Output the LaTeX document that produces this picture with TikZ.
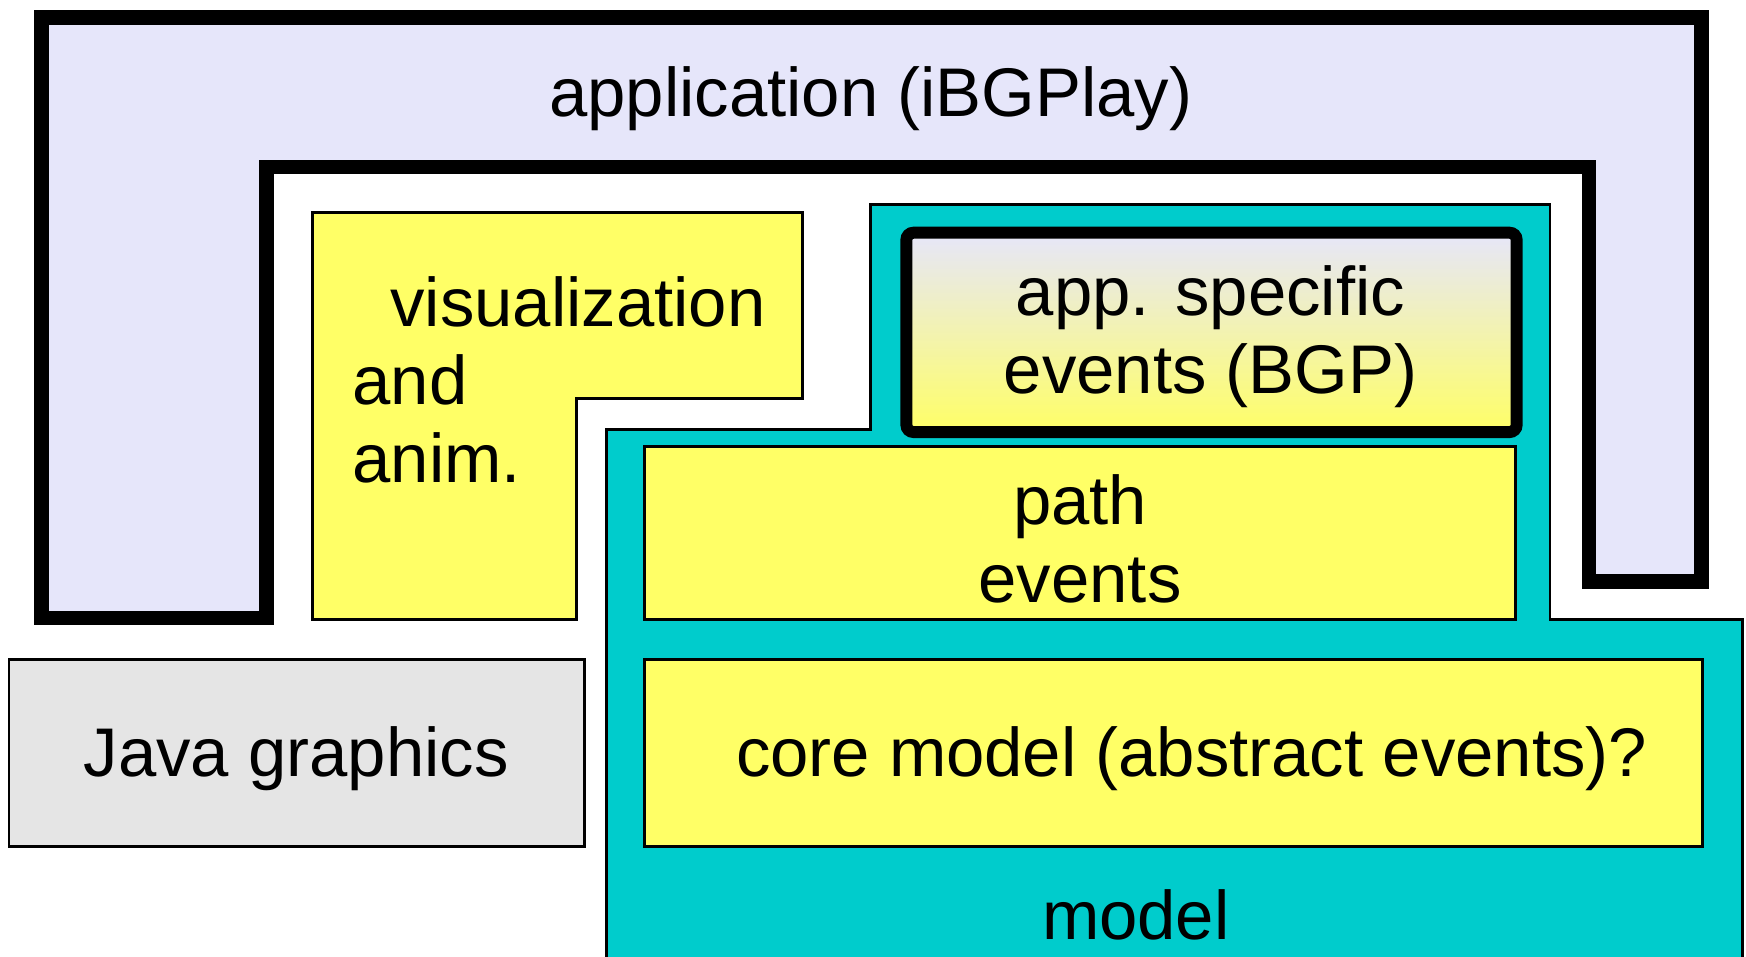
\documentclass[tikz,border=0pt]{standalone}
\usepackage{fontspec}
\setmainfont{Liberation Sans}
\definecolor{appblue}{RGB}{230,230,250}
\definecolor{boxyellow}{RGB}{255,255,102}
\definecolor{modelcyan}{RGB}{0,204,204}
\definecolor{javagray}{RGB}{229,229,229}
\begin{document}
\begin{tikzpicture}[x=0.011135cm, y=-0.011135cm,
        txt/.style={font=\fontsize{19.6}{22.2}\selectfont, inner sep=0pt},
        thinbox/.style={draw=black, line width=0.8pt, line join=miter},
        thickbox/.style={draw=black, line width=4.2pt, line join=miter}]
        \useasboundingbox (0,0) rectangle (1568,859);

        \draw[thickbox, fill=appblue] (37,16) -- (1528,16) -- (1528,522) -- (1427,522) -- (1427,150) -- (239,150) -- (239,555) -- (37,555) -- cycle;
        \node[txt] (app) at (782,89) {application (iBGPlay)};

        \draw[thinbox, fill=boxyellow] (281,191) -- (721,191) -- (721,358) -- (518,358) -- (518,556) -- (281,556) -- cycle;
        \node[txt, align=left, anchor=west] (vis) at (316,341) {\hspace{0.55em}visualization\\and\\anim.};

        \draw[thinbox, fill=modelcyan] (782,184) -- (1392,184) -- (1392,556) -- (1565,556) -- (1565,870) -- (545,870) -- (545,386) -- (782,386) -- cycle;
        \node[txt] (model) at (1020,822) {model};

        \draw[line width=3.4pt, rounded corners=2pt, top color=appblue, bottom color=boxyellow] (814,209) rectangle (1362,388);
        \node[txt, align=center] (bgp) at (1087,302) {app. specific\\events (BGP)};

        \draw[thinbox, fill=boxyellow] (579,401) rectangle (1361,556);
        \node[txt, align=center] (path) at (970,484) {path\\events};

        \draw[thinbox, fill=boxyellow] (579,592) rectangle (1529,760);
        \node[txt] (core) at (1070,681) {core model (abstract events)?};

        \draw[thinbox, fill=javagray] (8,592) rectangle (525,760);
        \node[txt] (java) at (266,681) {Java graphics};
\end{tikzpicture}
\end{document}
